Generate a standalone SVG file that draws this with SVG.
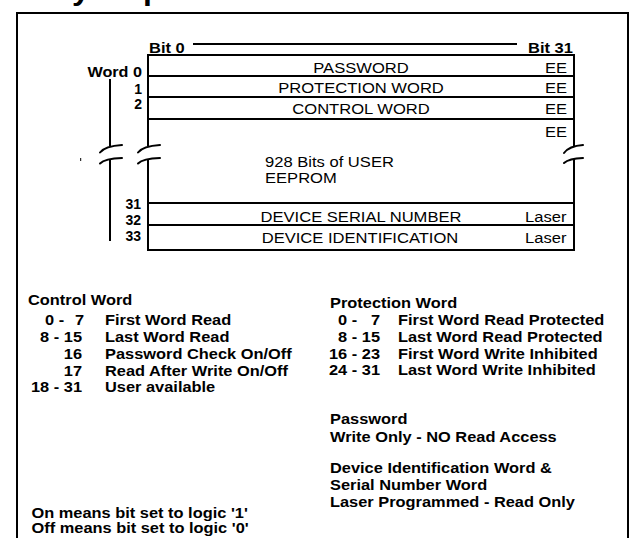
<svg xmlns="http://www.w3.org/2000/svg" width="632" height="538" viewBox="0 0 632 538">
<style>
text{font-family:"Liberation Sans",Arial,sans-serif;fill:#000}
.r{font-size:15px}
.b{font-size:15px;font-weight:bold}
.n{font-size:14px;font-weight:bold}
.t{font-size:29px;font-weight:bold}
.ln{stroke:#000;stroke-width:2;fill:none}
.br{stroke:#000;stroke-width:2;fill:none;stroke-linecap:round}
.m{text-anchor:middle}
.e{text-anchor:end}
</style>
<rect width="632" height="538" fill="#fff"/>
<g id="title">
<text class="t" transform="translate(-32.5 -0.5) scale(1.1 1)">Memory Map</text>
</g>
<g id="frame">
<rect class="ln" x="17" y="13" width="611" height="545"/>
</g>
<g id="bit-header">
<text class="b" transform="translate(149 53) scale(1.1 1)">Bit 0</text>
<path class="ln" d="M193 44 H517"/>
<text class="b" transform="translate(528 53) scale(1.1 1)">Bit 31</text>
</g>
<g id="word-labels">
<text class="b e" transform="translate(142 77) scale(1.08 1)">Word 0</text>
<text class="n e" transform="translate(142 93.5)">1</text>
<text class="n e" transform="translate(142 109)">2</text>
<text class="n e" transform="translate(141 208.5)">31</text>
<text class="n e" transform="translate(141 225)">32</text>
<text class="n e" transform="translate(141 240.7)">33</text>
</g>
<g id="table-frame">
<path class="ln" d="M148 55 H574 M148 76 H574 M148 97 H574 M148 119 H574 M148 203 H574 M148 225 H574 M148 250 H574"/>
<path class="ln" d="M148 54 V146 M148 159 V251 M574 54 V146 M574 159 V251"/>
</g>
<g id="row-password">
<text class="r m" transform="translate(361 72.7) scale(1.105 1)">PASSWORD</text>
<text class="r e" transform="translate(567 72.7) scale(1.105 1)">EE</text>
</g>
<g id="row-protection">
<text class="r m" transform="translate(361 93.3) scale(1.105 1)">PROTECTION WORD</text>
<text class="r e" transform="translate(567 93.3) scale(1.105 1)">EE</text>
</g>
<g id="row-control">
<text class="r m" transform="translate(361 114) scale(1.105 1)">CONTROL WORD</text>
<text class="r e" transform="translate(567 114) scale(1.105 1)">EE</text>
</g>
<g id="row-user">
<text class="r e" transform="translate(567 137.3) scale(1.105 1)">EE</text>
<text class="r" transform="translate(265 166.7) scale(1.105 1)">928 Bits of USER</text>
<text class="r" transform="translate(265 182.7) scale(1.105 1)">EEPROM</text>
</g>
<g id="row-serial">
<text class="r m" transform="translate(361 221.7) scale(1.105 1)">DEVICE SERIAL NUMBER</text>
<text class="r e" transform="translate(566.5 221.7) scale(1.105 1)">Laser</text>
</g>
<g id="row-id">
<text class="r m" transform="translate(360 243.3) scale(1.105 1)">DEVICE IDENTIFICATION</text>
<text class="r e" transform="translate(566.5 243.3) scale(1.105 1)">Laser</text>
</g>
<g id="connectors">
<path class="ln" d="M110 79 V146 M110 159 V241"/>
<path class="br" d="M100 152.5 Q105 146 122 145 M100 163.5 Q105 158.5 122 158"/>
<path class="br" d="M138 152.5 Q143 146 160 145 M138 163.5 Q143 158.5 160 158"/>
<path class="br" d="M564 153 Q569 146 583 145 M564 163 Q569 158.5 583 158"/>
<path d="M80.7 158 V161" stroke="#000" stroke-width="1"/>
</g>
<g id="control-word-legend">
<text class="b" transform="translate(28 305) scale(1.093 1)">Control Word</text>
<text class="b" transform="translate(45 325) scale(1.093 1)">0 -</text>
<text class="b" transform="translate(75 325) scale(1.093 1)">7</text>
<text class="b e" transform="translate(82 342) scale(1.093 1)">8 - 15</text>
<text class="b e" transform="translate(82 359) scale(1.093 1)">16</text>
<text class="b e" transform="translate(82 376) scale(1.093 1)">17</text>
<text class="b e" transform="translate(82 392) scale(1.093 1)">18 - 31</text>
<text class="b" transform="translate(105 325) scale(1.093 1)">First Word Read</text>
<text class="b" transform="translate(105 342) scale(1.093 1)">Last Word Read</text>
<text class="b" transform="translate(105 359) scale(1.093 1)">Password Check On/Off</text>
<text class="b" transform="translate(105 376) scale(1.093 1)">Read After Write On/Off</text>
<text class="b" transform="translate(105 392) scale(1.093 1)">User available</text>
</g>
<g id="protection-word-legend">
<text class="b" transform="translate(330 308) scale(1.093 1)">Protection Word</text>
<text class="b" transform="translate(338 325) scale(1.093 1)">0 -</text>
<text class="b e" transform="translate(380 325) scale(1.093 1)">7</text>
<text class="b e" transform="translate(380 342) scale(1.093 1)">8 - 15</text>
<text class="b e" transform="translate(380 359) scale(1.093 1)">16 - 23</text>
<text class="b e" transform="translate(380 375) scale(1.093 1)">24 - 31</text>
<text class="b" transform="translate(398 325) scale(1.093 1)">First Word Read Protected</text>
<text class="b" transform="translate(398 342) scale(1.093 1)">Last Word Read Protected</text>
<text class="b" transform="translate(398 359) scale(1.093 1)">First Word Write Inhibited</text>
<text class="b" transform="translate(398 375) scale(1.093 1)">Last Word Write Inhibited</text>
</g>
<g id="password-note">
<text class="b" transform="translate(330 424.3) scale(1.093 1)">Password</text>
<text class="b" transform="translate(330 441.5) scale(1.093 1)">Write Only - NO Read Access</text>
</g>
<g id="device-note">
<text class="b" transform="translate(330 473.3) scale(1.093 1)">Device Identification Word &amp;</text>
<text class="b" transform="translate(330 490.3) scale(1.093 1)">Serial Number Word</text>
<text class="b" transform="translate(330 506.7) scale(1.093 1)">Laser Programmed - Read Only</text>
</g>
<g id="logic-note">
<text class="b" transform="translate(31.5 518.3) scale(1.093 1)">On means bit set to logic '1'</text>
<text class="b" transform="translate(31.5 533.3) scale(1.093 1)">Off means bit set to logic '0'</text>
</g>
</svg>
